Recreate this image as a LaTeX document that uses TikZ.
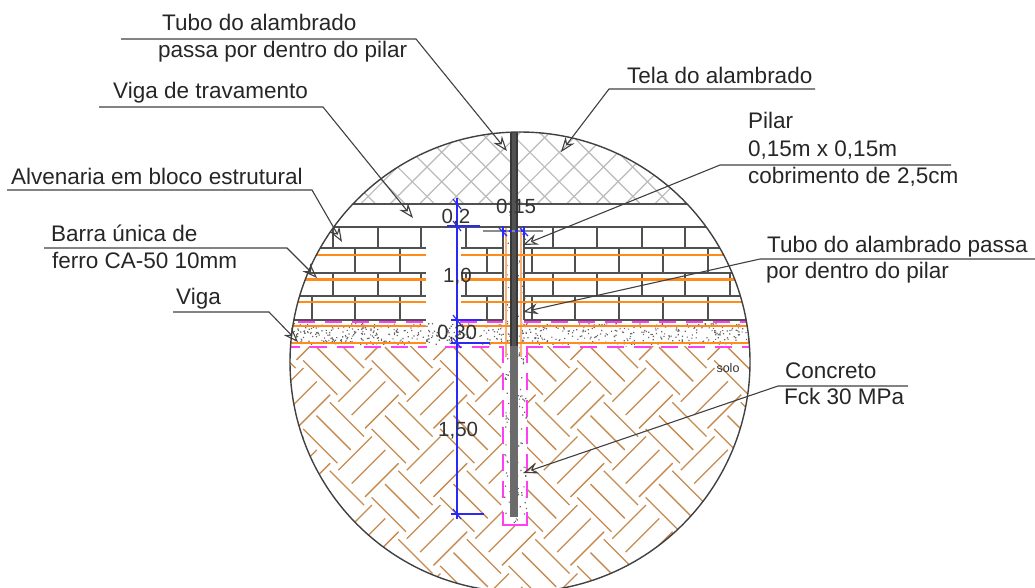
\documentclass[tikz,border=0pt]{standalone}
\usepackage{fontspec}
\setmainfont{Liberation Sans}
\usetikzlibrary{arrows.meta}
\definecolor{soil}{HTML}{C68A4E}
\definecolor{rebar}{HTML}{FF8C1A}
\definecolor{rebarlight}{HTML}{F7B27A}
\definecolor{stirrup}{HTML}{FF40F0}
\definecolor{dimblue}{HTML}{2A2AF5}
\definecolor{brick}{HTML}{505050}
\definecolor{ink}{HTML}{404040}
\tikzset{
  x=1pt,y=-1pt,
  lbl/.style={anchor=base west,inner sep=0pt,font=\fontsize{22.5}{26}\selectfont,text=black!85},
  dimtxt/.style={anchor=base west,inner sep=0pt,font=\fontsize{20.5}{24}\selectfont,text=black!80},
  leader/.style={draw=ink,line width=1.1pt,-{Stealth[open,length=15pt,width=11pt,inset=5pt]}},
  hatchline/.style={draw=black!27,line width=1.2pt},
  soilline/.style={draw=soil,line width=1.3pt},
  course/.style={draw=brick,line width=1.5pt},
  joint/.style={draw=brick,line width=1.2pt},
  rebarline/.style={draw=rebar,line width=1.4pt},
  magdash/.style={draw=stirrup,line width=2pt,dash pattern=on 17pt off 10pt},
  magsolid/.style={draw=stirrup,line width=2pt},
  dimline/.style={draw=dimblue,line width=1.1pt},
}
\begin{document}
\begin{tikzpicture}
\useasboundingbox (0,0) rectangle (1035,587);
\coordinate (cc) at (520,362);
% ---------- everything inside the detail circle
\begin{scope}
\clip (cc) circle (230pt);
% wire mesh
\begin{scope}
\clip (280,120) rectangle (760,204);
\foreach \k in {-6,...,16}{
  \draw[hatchline] ({260+29.4*\k+100},100) -- ({260+29.4*\k+230},230);
  \draw[hatchline] ({623.4+29.4*\k-100},100) -- ({623.4+29.4*\k-230},230);
}
\end{scope}
% soil herringbone
\begin{scope}
\clip (280,346.5) rectangle (760,600);
\foreach \i in {-2,...,7}{\foreach \j in {-2,...,3}{\foreach \k in {0,1,2}{
  \draw[soilline] ({338.3+68.5*\i+13.33*\k},{401.7+68.5*\j+13.33*\k}) -- ++(33.7,-33.7);
  \draw[soilline] ({398.3+68.5*\i-13.33*\k},{402.3+68.5*\j+13.33*\k}) -- ++(34.3,34.3);
}}}
\end{scope}
% column void
\fill[white] (503,346) rectangle (527,525);
% beam concrete
\pgfmathsetseed{4242}
\fill[black!60] \foreach \n in {1,...,620}{ ({285+470*rnd},{323+21*rnd}) rectangle ++(1.2,1.2) };
% courses
\draw[course,line width=1.3pt] (290,204) -- (750,204);
\draw[course] (290,227) -- (750,227);
\foreach \yy in {248,273,296,320}{
  \draw[course] (285,\yy) -- (426,\yy);
  \draw[course] (461,\yy) -- (503,\yy);
  \draw[course] (524,\yy) -- (755,\yy);
}
\foreach \xx in {333,378,421,466,553,597,642,685}{
  \draw[joint] (\xx,227) -- (\xx,248);
}
\foreach \xx in {333,378,421,466,553,597,642,685,730}{
  \draw[joint] (\xx,273) -- (\xx,296);
}
\foreach \xx in {355,400,487,532,575,619,663,708}{
  \draw[joint] (\xx,248) -- (\xx,273);
}
\foreach \xx in {312,355,400,487,532,575,619,663,708}{
  \draw[joint] (\xx,296) -- (\xx,320);
}
% column stipple
\pgfmathsetseed{77}
\fill[black!60] \foreach \n in {1,...,190}{ ({504+22*rnd},{228+296*rnd}) rectangle ++(1.2,1.2) };
% column edges
\draw[joint] (503,231) -- (503,320);
\draw[joint] (524,231) -- (524,320);
\draw[draw=rebarlight,line width=2.4pt] (506,228) -- (506,357);
\draw[draw=rebarlight,line width=2.4pt] (521,228) -- (521,357);
% rebars
\foreach \yy/\wd in {255/1.5pt,279/3pt,302/1.8pt,326/1.5pt,343/1.5pt}{
  \draw[rebarline,line width=\wd] (285,\yy) -- (426,\yy);
  \draw[rebarline,line width=\wd] (461,\yy) -- (755,\yy);
}
% stirrups
\draw[magdash] (271,322) -- (426,322);
\draw[magdash] (460,322) -- (503,322);
\draw[magdash] (524,322) -- (757,322);
\draw[magdash] (283,346.5) -- (427,346.5);
\draw[magdash] (445,346.5) -- (503,346.5);
\draw[magdash] (526,346.5) -- (757,346.5);
\draw[magdash] (503,498) -- (503,346);
\draw[magdash] (526.5,498) -- (526.5,346);
\draw[magsolid] (503,512) -- (503,525) -- (526.5,525) -- (526.5,512);
% tube
\fill[black!58] (510,346) rectangle (518,517);
\fill[black!78] (510,132) rectangle (518,346);
\fill[black!68] (512,132) rectangle (516,346);
\end{scope}
% ---------- dimensions
\draw[dimline] (457,198) -- (457,519);
\draw[dimline] (447,226) -- (480,226);
\draw[dimline] (451,320) -- (482,320);
\draw[dimline] (451,343) -- (490,343);
\draw[dimline] (451,514) -- (484,514);
\foreach \yy in {204,226,320,343,514}{
  \draw[dimline] (453,\yy-5) -- (461,\yy+5);
}
\draw[draw=black!45,line width=1.1pt] (483,231) -- (543,231);
\draw[dimline,dashed] (503,231) -- (524,231);
\draw[dimline] (503,226) -- (503,237);
\draw[dimline] (524,226) -- (524,237);
\draw[dimline] (499,228) -- (507,236);
\draw[dimline] (520,228) -- (528,236);
\node[dimtxt] (d1) at (441.5,223) {0,2};
\node[dimtxt] (d2) at (496,213) {0,15};
\node[dimtxt] (d3) at (443,282) {1,0};
\node[dimtxt] (d4) at (437,339) {0,30};
\node[dimtxt] (d5) at (438,436) {1,50};
\node[anchor=base,inner sep=0pt,font=\fontsize{12.5}{14}\selectfont,text=black!80] (solo) at (728,372) {solo};
% circle outline
\draw[draw=ink,line width=1.4pt] (cc) circle (230pt);
% ---------- labels
\node[lbl] (t1a) at (162,30) {Tubo do alambrado};
\node[lbl] (t1b) at (158,57) {passa por dentro do pilar};
\node[lbl] (t2) at (113,98) {Viga de travamento};
\node[lbl] (t3) at (11,184) {Alvenaria em bloco estrutural};
\node[lbl] (t4a) at (51,241) {Barra única de};
\node[lbl] (t4b) at (52,268) {ferro CA-50 10mm};
\node[lbl] (t5) at (176,304) {Viga};
\node[lbl] (t6) at (627,83) {Tela do alambrado};
\node[lbl] (t7a) at (748,128) {Pilar};
\node[lbl] (t7b) at (748,156) {0,15m x 0,15m};
\node[lbl] (t7c) at (748,183) {cobrimento de 2,5cm};
\node[lbl] (t8a) at (767,252) {Tubo do alambrado passa};
\node[lbl] (t8b) at (766,278) {por dentro do pilar};
\node[lbl] (t9a) at (785,378) {Concreto};
\node[lbl] (t9b) at (784,404) {Fck 30 MPa};
% ---------- leaders
\coordinate (s1a) at (121,39);  \coordinate (s1b) at (416,39);  \coordinate (p1) at (507,151);
\coordinate (s2a) at (99,107);  \coordinate (s2b) at (323,107); \coordinate (p2) at (413,218);
\coordinate (s3a) at (7,190);   \coordinate (s3b) at (312,190); \coordinate (p3) at (342,242);
\coordinate (s4a) at (44,248);  \coordinate (s4b) at (287,248); \coordinate (p4) at (317,278);
\coordinate (s5a) at (173,312); \coordinate (s5b) at (269,312); \coordinate (p5) at (298,342);
\coordinate (s6a) at (815,89);  \coordinate (s6b) at (609,89);  \coordinate (p6) at (561,152);
\coordinate (s7a) at (951,165); \coordinate (s7b) at (720,165); \coordinate (p7) at (523,245);
\coordinate (s8a) at (1035,259);\coordinate (s8b) at (760,259); \coordinate (p8) at (523,312);
\coordinate (s9a) at (908,386); \coordinate (s9b) at (778,386); \coordinate (p9) at (523,473);
\foreach \n in {1,...,9}{
  \draw[leader] (s\n a) -- (s\n b) -- (p\n);
}
\end{tikzpicture}
\end{document}
